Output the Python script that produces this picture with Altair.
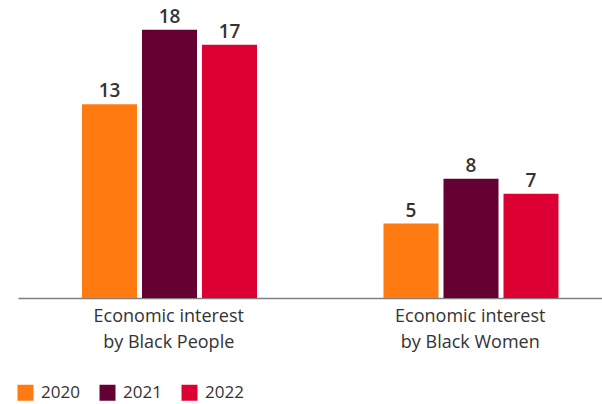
import altair as alt
import pandas as pd

categories = ["Economic interest by Black People", "Economic interest by Black Women"]
years = ["2020", "2021", "2022"]
values_people = [13, 18, 17]
values_women = [5, 8, 7]
colors = ["#FF7B12", "#650032", "#DD0033"]

rows = []
for cat, vals in zip(categories, [values_people, values_women]):
    for y, v in zip(years, vals):
        rows.append({"category": cat, "year": y, "value": v})
df = pd.DataFrame(rows)

FONT = "Open Sans"

base = alt.Chart(df).encode(
    x=alt.X("category:N", sort=categories, title=None,
            scale=alt.Scale(range=[0, 603], paddingInner=0, paddingOuter=0),
            axis=alt.Axis(labelAngle=0, ticks=False, domainColor="#7f7f7f", domainWidth=1.5,
                          labelExpr="[slice(datum.label, 0, 17), slice(datum.label, 18)]",
                          labelFont=FONT, labelFontSize=18, labelColor="#333333",
                          labelPadding=9, labelLineHeight=26, labelBaseline="top")),
    xOffset=alt.XOffset("year:N", sort=years,
                        scale=alt.Scale(range=[64, 239], paddingInner=0.083, paddingOuter=0)),
    y=alt.Y("value:Q", scale=alt.Scale(domain=[0, 20], nice=False), axis=None),
)

bars = base.mark_bar().encode(
    color=alt.Color("year:N", sort=years,
                    scale=alt.Scale(domain=years, range=colors),
                    legend=alt.Legend(title=None, orient="none", legendX=-1, legendY=384,
                                      direction="horizontal", symbolType="square",
                                      symbolSize=256, symbolStrokeWidth=0,
                                      labelFont=FONT, labelFontSize=17, labelColor="#333333",
                                      labelOffset=7, columnPadding=19))
)

labels = base.mark_text(dy=-7, baseline="alphabetic", font=FONT, fontSize=19,
                        fontWeight=600, color="#333333").encode(text="value:Q")

chart = (bars + labels).properties(
    width=584, height=298,
    autosize=alt.AutoSizeParams(type="none"),
    padding={"left": 18, "top": 0, "right": 0, "bottom": 106},
).configure_view(stroke=None)

chart.save("out.html", embed_options={"renderer": "svg", "actions": False})
